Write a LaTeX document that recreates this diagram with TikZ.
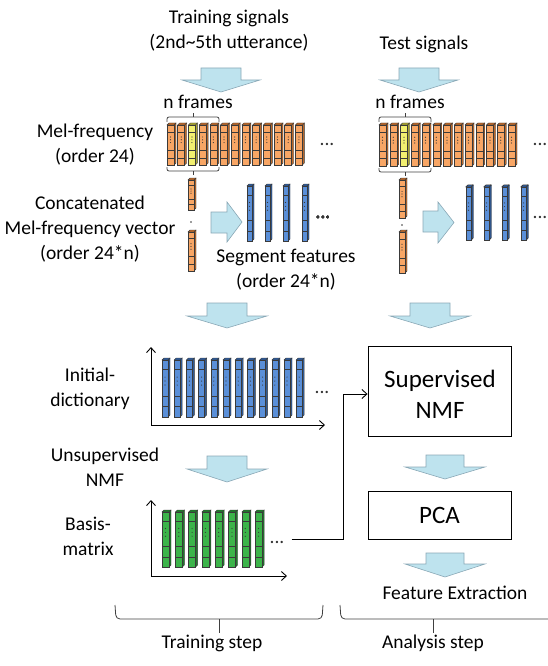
\documentclass[tikz,border=0pt]{standalone}
\usepackage{fontspec}
\setmainfont{Carlito}
\usetikzlibrary{arrows.meta}
\definecolor{edgec}{HTML}{3A3A3A}
\definecolor{orf}{HTML}{F8A665}
\definecolor{ors}{HTML}{B8672A}
\definecolor{yef}{HTML}{F2F070}
\definecolor{yes}{HTML}{A8A430}
\definecolor{blf}{HTML}{5A8FD8}
\definecolor{bls}{HTML}{2F5A96}
\definecolor{grf}{HTML}{3CB44A}
\definecolor{grs}{HTML}{1F7A2A}
\definecolor{arrf}{HTML}{BEE3EE}
\definecolor{arrd}{HTML}{8AA8B6}
\newcommand\mycol[6]{%
  \filldraw[fill=#6,draw=edgec,line width=0.4pt] ({#1+#4},#2) -- ({#1+#4+2},{#2-2}) -- ({#1+#4+2},{#3-2}) -- ({#1+#4},#3) -- cycle;
  \filldraw[fill=#6,draw=edgec,line width=0.4pt] (#1,#2) -- ({#1+2},{#2-2}) -- ({#1+#4+2},{#2-2}) -- ({#1+#4},#2) -- cycle;
  \filldraw[fill=#5,draw=edgec,line width=0.5pt] (#1,#2) rectangle ({#1+#4},#3);
  \foreach \f in {0.17,0.63,0.82} \draw[edgec,line width=0.5pt] (#1,{#2+\f*(#3-#2)}) -- ({#1+#4},{#2+\f*(#3-#2)});
  \foreach \f in {0.3,0.37,0.44} \fill[edgec] ({#1+#4/2},{#2+\f*(#3-#2)}) circle (0.6pt);
}
\newcommand\darrow[6]{% cx top shafthalf headhalf headtop tip
  \filldraw[fill=arrf,draw=arrd,line width=0.6pt] ({#1-#3},#2) -- ({#1+#3},#2) -- ({#1+#3},#5) -- ({#1+#4},#5) -- (#1,#6) -- ({#1-#4},#5) -- ({#1-#3},#5) -- cycle;
}
\newcommand\rarrow[7]{% x0 shafttop shaftbot headx headtop headbot tipx
  \filldraw[fill=arrf,draw=arrd,line width=0.6pt] (#1,#2) -- (#4,#2) -- (#4,#5) -- (#7,{(#5+#6)/2}) -- (#4,#6) -- (#4,#3) -- (#1,#3) -- cycle;
}
\tikzset{
  lbl/.style={font=\fontsize{19.5}{25}\selectfont, align=center, inner sep=0pt, text=black},
  big/.style={font=\fontsize{25}{31}\selectfont, align=center, inner sep=0pt},
  boxn/.style={draw=black, line width=0.9pt, minimum width=143pt, inner sep=0pt},
  dotsn/.style={font=\fontsize{19.5}{25}\selectfont, inner sep=0pt, anchor=base, text=black!80},
  axis/.style={draw=black, line width=0.9pt, -{Straight Barb[length=5pt,width=9pt]}},
  brc/.style={draw=black!75, line width=0.8pt, rounded corners=2pt},
  bigbrc/.style={draw=black!75, line width=0.8pt, rounded corners=4pt},
}
\begin{document}
\begin{tikzpicture}[x=1pt,y=-1pt]
\useasboundingbox (0,0) rectangle (547,666);
% top labels
\node[lbl] (train) at (229,31) {Training signals\\(2nd\textasciitilde5th utterance)};
\node[lbl] (test) at (424,44) {Test signals};
% top block arrows
\darrow{221}{68}{20}{39}{80}{92}
\darrow{419}{68}{20}{39}{80}{92}
\node[lbl] (nf1) at (198,102) {n frames};
\node[lbl] (nf2) at (410,102) {n frames};
% left labels
\node[lbl] (mel) at (95,145) {Mel-frequency\\(order 24)};
\node[lbl] (concat) at (90,229) {Concatenated\\Mel-frequency vector\\(order 24*n)};
% orange frames left
\foreach \i in {0,...,12} {
  \pgfmathsetmacro\xx{167+10.7*\i}
  \ifnum\i=2 \mycol{\xx}{125}{165}{7}{yef}{yes}\else \mycol{\xx}{125}{165}{7}{orf}{ors}\fi
}
\foreach \i in {0,...,12} {
  \pgfmathsetmacro\xx{379+10.75*\i}
  \ifnum\i=2 \mycol{\xx}{125}{166}{7}{yef}{yes}\else \mycol{\xx}{125}{166}{7}{orf}{ors}\fi
}
\node[dotsn] (d1) at (327,145) {...};
\node[dotsn] (d2) at (540,145) {...};
% braces
\draw[brc] (167,122) -- (167,117) -- (219,117) -- (219,122);
\draw[brc] (193,117) -- (193,113);
\draw[brc] (167,167) -- (167,171) -- (219,171) -- (219,167);
\draw[brc] (193,171) -- (193,175);
\draw[brc] (379,122) -- (379,117) -- (431,117) -- (431,122);
\draw[brc] (405,117) -- (405,113);
\draw[brc] (379,168) -- (379,172) -- (431,172) -- (431,168);
\draw[brc] (405,172) -- (405,176);
% concatenated vectors
\mycol{188}{180}{210}{6}{orf}{ors}
\mycol{188}{232}{271}{6}{orf}{ors}
\fill[edgec] (191,222) circle (0.8pt);
\mycol{399}{180}{218}{6}{orf}{ors}
\mycol{399}{232}{273}{6}{orf}{ors}
\fill[edgec] (402,225) circle (0.8pt);
% horizontal arrows
\rarrow{211}{212}{233}{227}{202}{242}{242}
\rarrow{423}{211}{232}{438}{202}{243}{454}
% segment features
\foreach \xx in {247,265,283,302} \mycol{\xx}{186}{241}{5}{blf}{bls}
\foreach \xx in {466,484,502,521} \mycol{\xx}{187}{240}{5}{blf}{bls}
\node[dotsn] (d3) at (323,218) {...};
\node[dotsn] (d4) at (540,218) {...};
\node[lbl] (seg) at (286,270) {Segment features\\(order 24*n)};
% middle arrows
\darrow{227}{303}{20}{40}{316}{328}
\darrow{430}{303}{20}{40}{316}{328}
% initial dictionary
\node[lbl] (init) at (90,389) {Initial-\\dictionary};
\draw[axis] (151,425) -- (151,347);
\draw[axis] (151,425) -- (325,425);
\foreach \i in {0,...,11} {
  \pgfmathsetmacro\xx{162+12.2*\i}
  \mycol{\xx}{360}{417}{6}{blf}{bls}
}
\node[dotsn] (d5) at (322,393) {...};
% unsupervised
\node[lbl] (unsup) at (105,467) {Unsupervised\\NMF};
\darrow{227}{456}{20}{40}{469}{482}
% basis matrix
\node[lbl] (basis) at (88,536) {Basis-\\matrix};
\draw[axis] (151,576) -- (151,500);
\draw[axis] (151,576) -- (287,576);
\foreach \i in {0,...,7} {
  \pgfmathsetmacro\xx{162+13.3*\i}
  \mycol{\xx}{512}{567}{7}{grf}{grs}
}
\node[dotsn] (bdots) at (277,543) {...};
% analysis step
\node[boxn, minimum height=90pt] (snmf) at (439.5,391) {};
\node[big] (snmft) at (440,394) {Supervised\\NMF};
\draw[line width=0.9pt, -{Straight Barb[length=5pt,width=9pt]}] ([xshift=7pt,yshift=4pt]bdots.base east) -| ([xshift=-24pt,yshift=-3pt]snmf.west) -- ([yshift=-3pt]snmf.west);
\darrow{445}{455}{19}{40}{467}{479}
\node[boxn, minimum height=48pt, big] (pca) at (439.5,515) {PCA};
\darrow{445}{553}{19}{40}{564}{577}
\node[lbl] (feat) at (455,593) {Feature Extraction};
% bottom braces
\draw[bigbrc] (115,605) -- (116,619) -- (322,619) -- (323,605);
\draw[bigbrc] (219,619) -- (219,633);
\draw[bigbrc] (340,605) -- (341,619) -- (550,619);
\draw[bigbrc] (433,619) -- (433,633);
\node[lbl] (trs) at (212,643) {Training step};
\node[lbl] (ans) at (433,643) {Analysis step};
\end{tikzpicture}
\end{document}
